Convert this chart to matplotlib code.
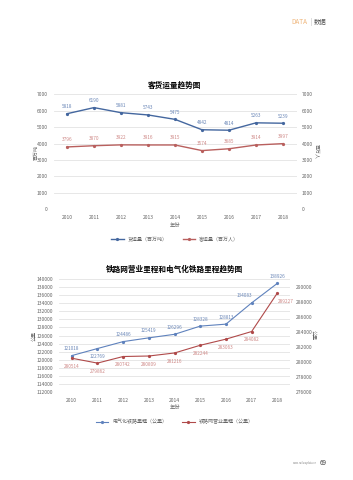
import matplotlib
matplotlib.use("Agg")
import matplotlib.pyplot as plt

plt.rcParams['font.family'] = ['Noto Sans CJK SC', 'DejaVu Sans']

# ---- data ----
years = ["2010", "2011", "2012", "2013", "2014", "2015", "2016", "2017", "2018"]

freight = [5818, 6190, 5881, 5743, 5475, 4842, 4814, 5263, 5239]       # 百万吨
passenger = [3796, 3870, 3922, 3916, 3915, 3574, 3685, 3914, 3997]     # 百万人

electrified = [121018, 122769, 124486, 125419, 126296, 128328, 128813, 134083, 138926]
network = [280514, 279862, 280742, 280809, 281216, 282244, 283063, 284082, 289227]

W, H = 353, 480
BLUE = "#44679f"
RED = "#b9605e"
BLUE_T = "#6c88b8"
RED_T = "#cf8a88"
GRID = "#e3e3e3"
TICK = "#666666"


def fx(px):
    return px / W


def fy(py):
    return 1 - py / H


def style(ax):
    for s in ax.spines.values():
        s.set_visible(False)
    ax.tick_params(length=0, labelsize=3.6, colors=TICK, pad=4)


fig = plt.figure(figsize=(W / 100, H / 100), dpi=100)

# ---- header / footer ----
fig.text(fx(291), fy(22), "DATA", color="#efb57a", fontsize=4.6, va="center")
fig.text(fx(310), fy(22), "|", color="#aaaaaa", fontsize=4.6, va="center")
fig.text(fx(313.5), fy(22), "数据", color="#555555", fontsize=4.6, va="center")
fig.text(fx(317), fy(463), "www.railwaydata.cn", color="#888888", fontsize=1.8,
         ha="right", va="center")
fig.text(fx(320), fy(463), "69", color="#444444", fontsize=4.5, va="center")

# ---- chart 1 ----
x = list(range(len(years)))
ax1 = fig.add_axes([fx(53.5), fy(209.3), fx(296.5) - fx(53.5), fy(94.3) - fy(209.3)])
style(ax1)
ax1.set_xlim(-0.5, 8.5)
ax1.set_ylim(0, 7000)
ax1.set_yticks(range(0, 7001, 1000))
ax1.set_xticks(x)
ax1.set_xticklabels(years)
ax1.grid(axis="y", color=GRID, linewidth=0.6)
ax1.set_axisbelow(True)
ax1.plot(x, freight, color=BLUE, lw=1.0, marker="o", ms=1.3, label="货运量（百万吨）")
ax1.plot(x, passenger, color=RED, lw=1.0, marker="o", ms=1.3, label="客运量（百万人）")
for i, v in enumerate(freight):
    ax1.annotate(str(v), (i, v), xytext=(0, 4), textcoords="offset points",
                 ha="center", fontsize=3.4, color=BLUE_T)
for i, v in enumerate(passenger):
    ax1.annotate(str(v), (i, v), xytext=(0, 4), textcoords="offset points",
                 ha="center", fontsize=3.4, color=RED_T)
ax1r = ax1.twinx()
style(ax1r)
ax1r.set_ylim(0, 7000)
ax1r.set_yticks(range(0, 7001, 1000))
ax1.set_title("客货运量趋势图", fontsize=5.5, fontweight="bold", pad=5)
ax1.set_xlabel("年份", fontsize=3.8, color=TICK, labelpad=2)
fig.text(fx(36), fy(152), "百万吨", rotation=90, fontsize=3.6, color=TICK,
         ha="center", va="center")
fig.text(fx(317), fy(152), "百万人", rotation=-90, fontsize=3.6, color=TICK,
         ha="center", va="center")
ax1.legend(loc="upper center", bbox_to_anchor=(0.5, -0.2), ncol=2, frameon=False,
           fontsize=3.6, handlelength=2.5, columnspacing=3, labelcolor=TICK)

# ---- chart 2 ----
ax2 = fig.add_axes([fx(58.9), fy(392), fx(290.2) - fx(58.9), fy(279) - fy(392)])
style(ax2)
ax2.set_xlim(-0.5, 8.5)
ax2.set_ylim(112000, 140000)
ax2.set_yticks(range(112000, 140001, 2000))
ax2.set_xticks(x)
ax2.set_xticklabels(years)
ax2.grid(axis="y", color=GRID, linewidth=0.6)
ax2.set_axisbelow(True)
l1, = ax2.plot(x, electrified, color="#5f82bd", lw=0.8, marker="o", ms=1.3,
               label="电气化铁路里程（公里）")
ax2r = ax2.twinx()
style(ax2r)
ax2r.set_ylim(276000, 291100)
ax2r.set_yticks(range(276000, 290001, 2000))
l2, = ax2r.plot(x, network, color="#b04a4a", lw=0.8, marker="o", ms=1.3,
                label="铁路网营业里程（公里）")
e_off = [(0, 4), (0, -7), (0, 4), (0, 4), (0, 4), (0, 4), (0, 4), (-5, 4), (0, 4)]
for i, v in enumerate(electrified):
    ax2.annotate(str(v), (i, v), xytext=e_off[i], textcoords="offset points",
                 ha="center", fontsize=3.4, color=BLUE_T)
n_off = [(0, -7), (0, -7), (0, -7), (0, -7), (0, -7), (0, -7), (0, -7), (0, -7), (6, -7)]
for i, v in enumerate(network):
    ax2r.annotate(str(v), (i, v), xytext=n_off[i], textcoords="offset points",
                  ha="center", fontsize=3.4, color=RED_T)
ax2.set_title("铁路网营业里程和电气化铁路里程趋势图", fontsize=5.5, fontweight="bold", pad=5)
ax2.set_xlabel("年份", fontsize=3.8, color=TICK, labelpad=2)
fig.text(fx(34), fy(336), "公里", rotation=90, fontsize=3.6, color=TICK,
         ha="center", va="center")
fig.text(fx(314), fy(335), "公里", rotation=-90, fontsize=3.6, color=TICK,
         ha="center", va="center")
ax2.legend([l1, l2], [l1.get_label(), l2.get_label()], loc="upper center",
           bbox_to_anchor=(0.5, -0.2), ncol=2, frameon=False,
           fontsize=3.6, handlelength=2.5, columnspacing=3, labelcolor=TICK)

fig.savefig("out.png", dpi=100)
